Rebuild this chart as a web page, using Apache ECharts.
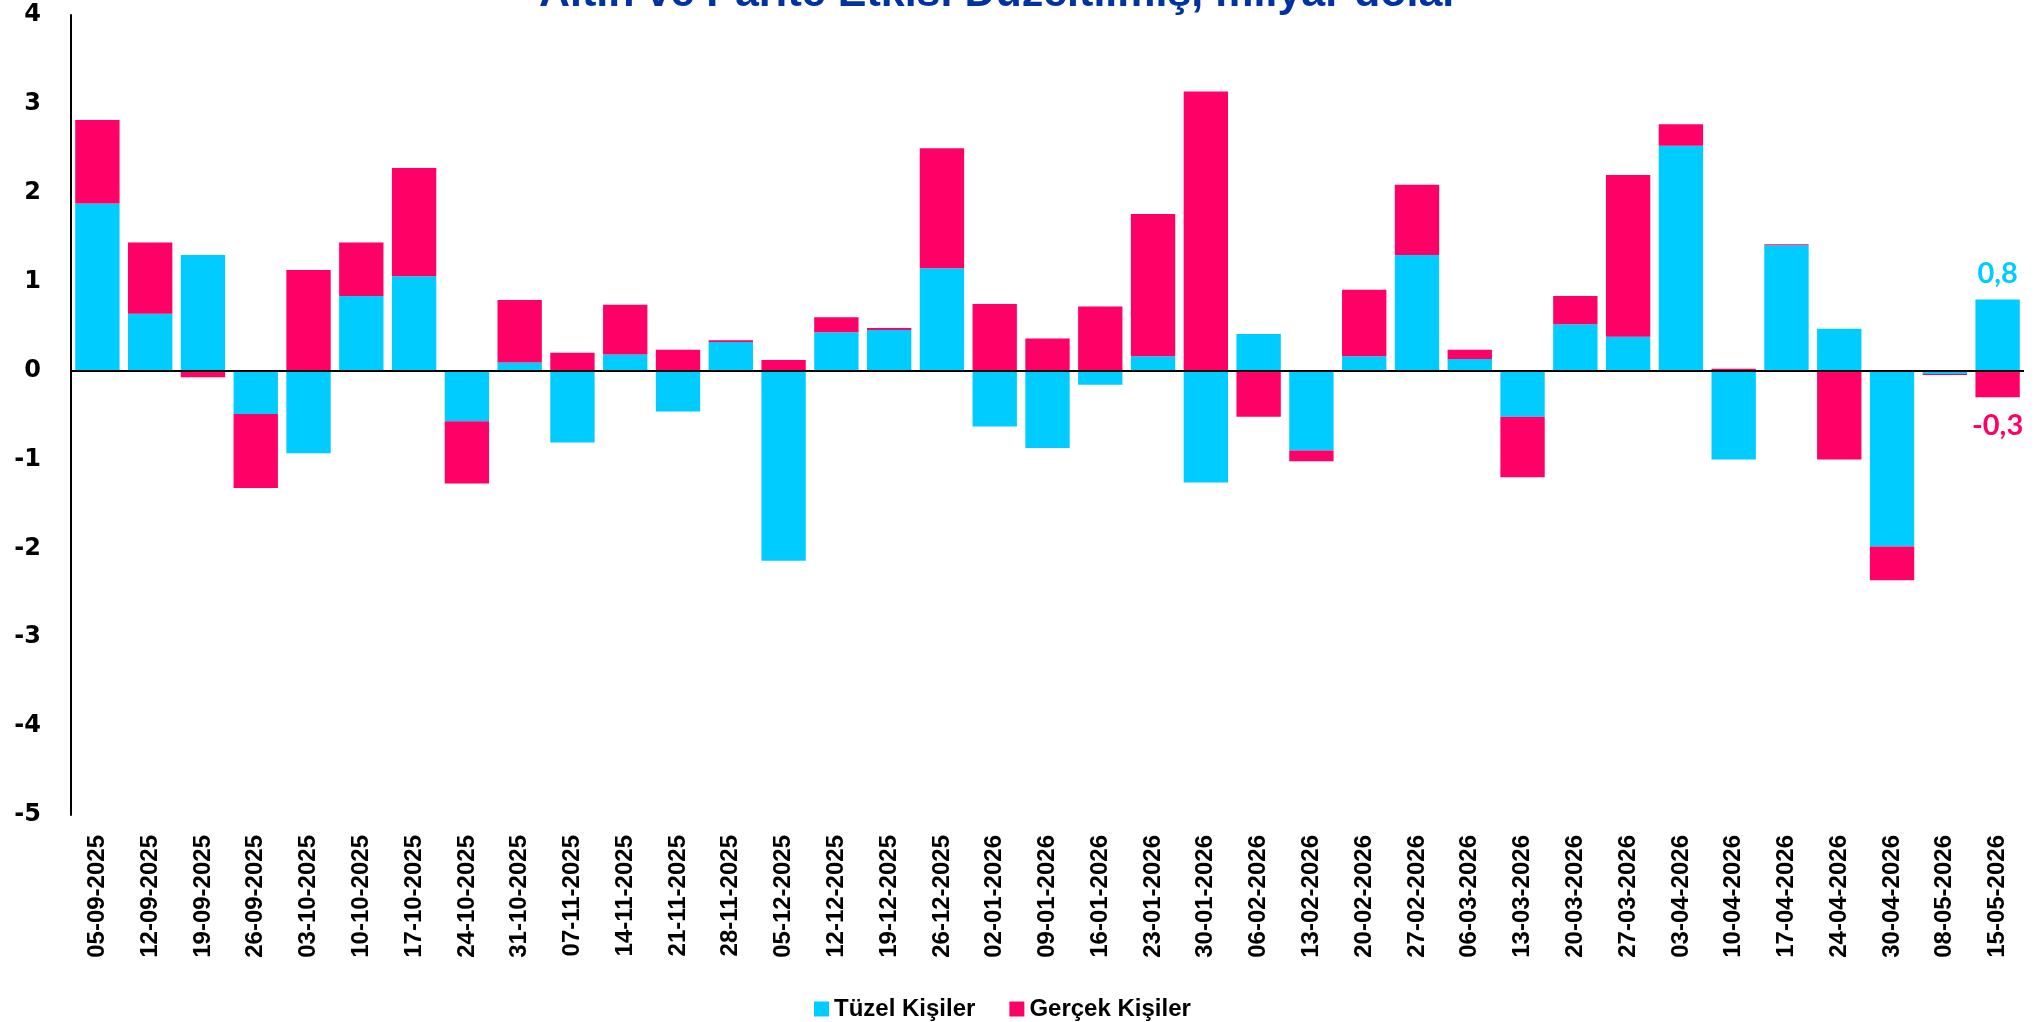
<!DOCTYPE html>
<html>
<head>
<meta charset="utf-8">
<script src="https://cdn.jsdelivr.net/npm/echarts@6/dist/echarts.min.js"></script>
<style>
    html, body { margin: 0; padding: 0; background: #fff; }
    #main { width: 2039px; height: 1022px; }
</style>
</head>
<body>
<div id="main"></div>
<script>
    // weekly dates
    var weeks = ['05-09-2025', '12-09-2025', '19-09-2025', '26-09-2025', '03-10-2025', '10-10-2025',
        '17-10-2025', '24-10-2025', '31-10-2025', '07-11-2025', '14-11-2025', '21-11-2025', '28-11-2025',
        '05-12-2025', '12-12-2025', '19-12-2025', '26-12-2025', '02-01-2026', '09-01-2026', '16-01-2026',
        '23-01-2026', '30-01-2026', '06-02-2026', '13-02-2026', '20-02-2026', '27-02-2026', '06-03-2026',
        '13-03-2026', '20-03-2026', '27-03-2026', '03-04-2026', '10-04-2026', '17-04-2026', '24-04-2026',
        '30-04-2026', '08-05-2026', '15-05-2026'];

    var tuzel = [1.88, 0.64, 1.30, -0.49, -0.93, 0.84, 1.06, -0.57, 0.09, -0.81, 0.18, -0.46, 0.32,
        -2.14, 0.43, 0.455, 1.15, -0.63, -0.87, -0.16, 0.16, -1.26, 0.41, -0.90, 0.16, 1.30, 0.13,
        -0.52, 0.52, 0.38, 2.53, -1.00, 1.41, 0.47, -1.98, -0.04, 0.8];

    var gercek = [0.94, 0.80, -0.075, -0.83, 1.13, 0.60, 1.22, -0.70, 0.705, 0.20, 0.56, 0.235, 0.02,
        0.12, 0.17, 0.025, 1.35, 0.75, 0.36, 0.72, 1.60, 3.14, -0.52, -0.12, 0.75, 0.79, 0.105,
        -0.68, 0.32, 1.82, 0.24, 0.02, 0.01, -1.00, -0.38, -0.01, -0.3];

    var yTicks = [-5, 4, 1];

    var cyan = '#00ccff', pink = '#ff0066';

    // only the last week gets a value label
    function withLastLabel(arr, color, pos) {
        return arr.map(function (v, i) {
            if (i !== arr.length - 1) return v;
            return {
                value: v,
                label: {
                    show: true, position: pos, distance: pos === 'top' ? 11 : 14,
                    color: color, fontFamily: 'Lato', fontWeight: 'bold', fontSize: 29,
                    formatter: function (p) { return String(p.value).replace('.', ','); }
                }
            };
        });
    }

    var chart = echarts.init(document.getElementById('main'));
    chart.setOption({
        animation: false,
        title: {
            text: 'Altın ve Parite Etkisi Düzeltilmiş, milyar dolar',
            left: 534,
            top: -32,
            textStyle: { color: '#0033a1', fontFamily: 'Liberation Sans', fontWeight: 'bold', fontSize: 43 }
        },
        legend: {
            left: 809,
            top: 992,
            itemWidth: 15,
            itemHeight: 15,
            itemGap: 34,
            icon: 'rect',
            textStyle: { color: '#000', fontFamily: 'Liberation Sans', fontWeight: 'bold', fontSize: 24 },
            data: ['Tüzel Kişiler', 'Gerçek Kişiler']
        },
        grid: { left: 71, right: 15, top: 15, bottom: 207 },
        xAxis: {
            type: 'category',
            data: weeks,
            axisLine: { onZero: false, show: false },
            axisTick: { show: false },
            axisLabel: {
                interval: 0, rotate: 90, margin: 20,
                color: '#000', fontFamily: 'Liberation Sans', fontWeight: 'bold', fontSize: 24
            }
        },
        yAxis: {
            type: 'value',
            min: yTicks[0], max: yTicks[1], interval: yTicks[2],
            splitLine: { show: false },
            axisLine: { show: true, lineStyle: { color: '#000', width: 2 } },
            axisTick: { show: false },
            axisLabel: { margin: 30, color: '#000', fontFamily: 'DejaVu Sans', fontWeight: 'bold', fontSize: 24 }
        },
        series: [
            {
                name: 'Tüzel Kişiler',
                type: 'bar',
                stack: 'toplam',
                barCategoryGap: '16%',
                itemStyle: { color: cyan },
                data: withLastLabel(tuzel, cyan, 'top'),
                markLine: {
                    silent: true,
                    symbol: 'none',
                    label: { show: false },
                    lineStyle: { color: '#000', width: 2, type: 'solid' },
                    data: [{ yAxis: 0 }]
                }
            },
            {
                name: 'Gerçek Kişiler',
                type: 'bar',
                stack: 'toplam',
                itemStyle: { color: pink },
                data: withLastLabel(gercek, pink, 'bottom')
            }
        ]
    });
</script>
</body>
</html>
